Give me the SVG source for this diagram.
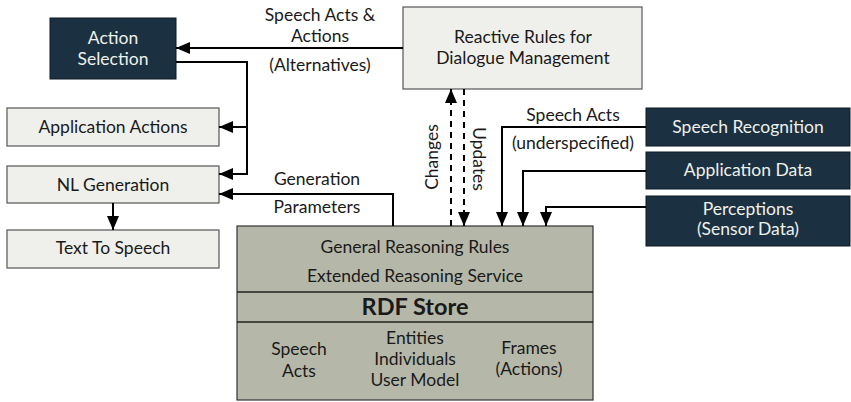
<svg xmlns="http://www.w3.org/2000/svg" width="851" height="402" viewBox="0 0 851 402">
<defs>
<marker id="ah" viewBox="0 0 14 12" refX="14" refY="6" markerWidth="14" markerHeight="12" markerUnits="userSpaceOnUse" orient="auto">
<path d="M0,0 L14,6 L0,12 Z" fill="#000"/>
</marker>
<style>
text{font-family:Lato,"Liberation Sans",sans-serif;font-size:17.5px;text-anchor:middle;fill:#1a1a1a}
.dark rect{fill:#1b3142;stroke:#0d1a24;stroke-width:1}
.dark text{fill:#eef0ea}
.light rect{fill:#eff0eb;stroke:#555;stroke-width:1.2}
.store rect{fill:#b5b8a9;stroke:#333;stroke-width:1.2}
.conn path{fill:none;stroke:#000;stroke-width:2}
.conn .d{stroke-dasharray:6,5}
.big{font-weight:bold;font-size:23.5px}
</style>
</defs>
<g id="action-selection" class="dark"><rect x="50" y="18" width="126" height="61"/><text x="113" y="44">Action</text><text x="113" y="65">Selection</text></g>
<g id="reactive-rules" class="light"><rect x="403" y="7" width="239" height="82"/><text x="523" y="43">Reactive Rules for</text><text x="523" y="64">Dialogue Management</text></g>
<g id="application-actions" class="light"><rect x="7" y="108" width="212" height="38"/><text x="113" y="133">Application Actions</text></g>
<g id="nl-generation" class="light"><rect x="7" y="166" width="212" height="37"/><text x="113" y="191">NL Generation</text></g>
<g id="text-to-speech" class="light"><rect x="7" y="230" width="212" height="38"/><text x="113" y="254">Text To Speech</text></g>
<g id="speech-recognition" class="dark"><rect x="646" y="108" width="204" height="38"/><text x="748" y="133">Speech Recognition</text></g>
<g id="application-data" class="dark"><rect x="646" y="152" width="204" height="37"/><text x="748" y="176">Application Data</text></g>
<g id="perceptions" class="dark"><rect x="646" y="196" width="204" height="50"/><text x="748" y="215">Perceptions</text><text x="748" y="235">(Sensor Data)</text></g>
<g id="rdf-store" class="store"><rect x="237" y="226" width="356" height="174"/>
<path d="M237,292 H593 M237,322 H593" stroke="#222" stroke-width="1.5"/>
<text x="415" y="253">General Reasoning Rules</text><text x="415" y="282">Extended Reasoning Service</text>
<text x="415" y="315" class="big">RDF Store</text>
<text x="299" y="355">Speech</text><text x="299" y="377">Acts</text>
<text x="415" y="344">Entities</text><text x="415" y="365">Individuals</text><text x="415" y="386">User Model</text>
<text x="529" y="354">Frames</text><text x="529" y="375">(Actions)</text>
</g>
<g id="connectors" class="conn">
<path d="M403,48 H176" marker-end="url(#ah)"/>
<path d="M176,62 H247 V174 H219" marker-end="url(#ah)"/>
<path d="M247,127 H219" marker-end="url(#ah)"/>
<path d="M393,226 V194 H219" marker-end="url(#ah)"/>
<path d="M113,203 V230" marker-end="url(#ah)"/>
<path class="d" d="M451,226 V89" marker-end="url(#ah)"/>
<path class="d" d="M464,89 V226" marker-end="url(#ah)"/>
<path d="M646,127 H502 V226" marker-end="url(#ah)"/>
<path d="M646,171 H523 V226" marker-end="url(#ah)"/>
<path d="M646,207 H546 V226" marker-end="url(#ah)"/>
<text x="320" y="21">Speech Acts &amp;</text><text x="320" y="42">Actions</text><text x="320" y="71">(Alternatives)</text>
<text x="317" y="185">Generation</text><text x="317" y="213">Parameters</text>
<text x="573" y="121">Speech Acts</text><text x="573" y="149">(underspecified)</text>
<text transform="translate(438,157) rotate(-90)">Changes</text>
<text transform="translate(473,159) rotate(90)">Updates</text>
</g>
</svg>
